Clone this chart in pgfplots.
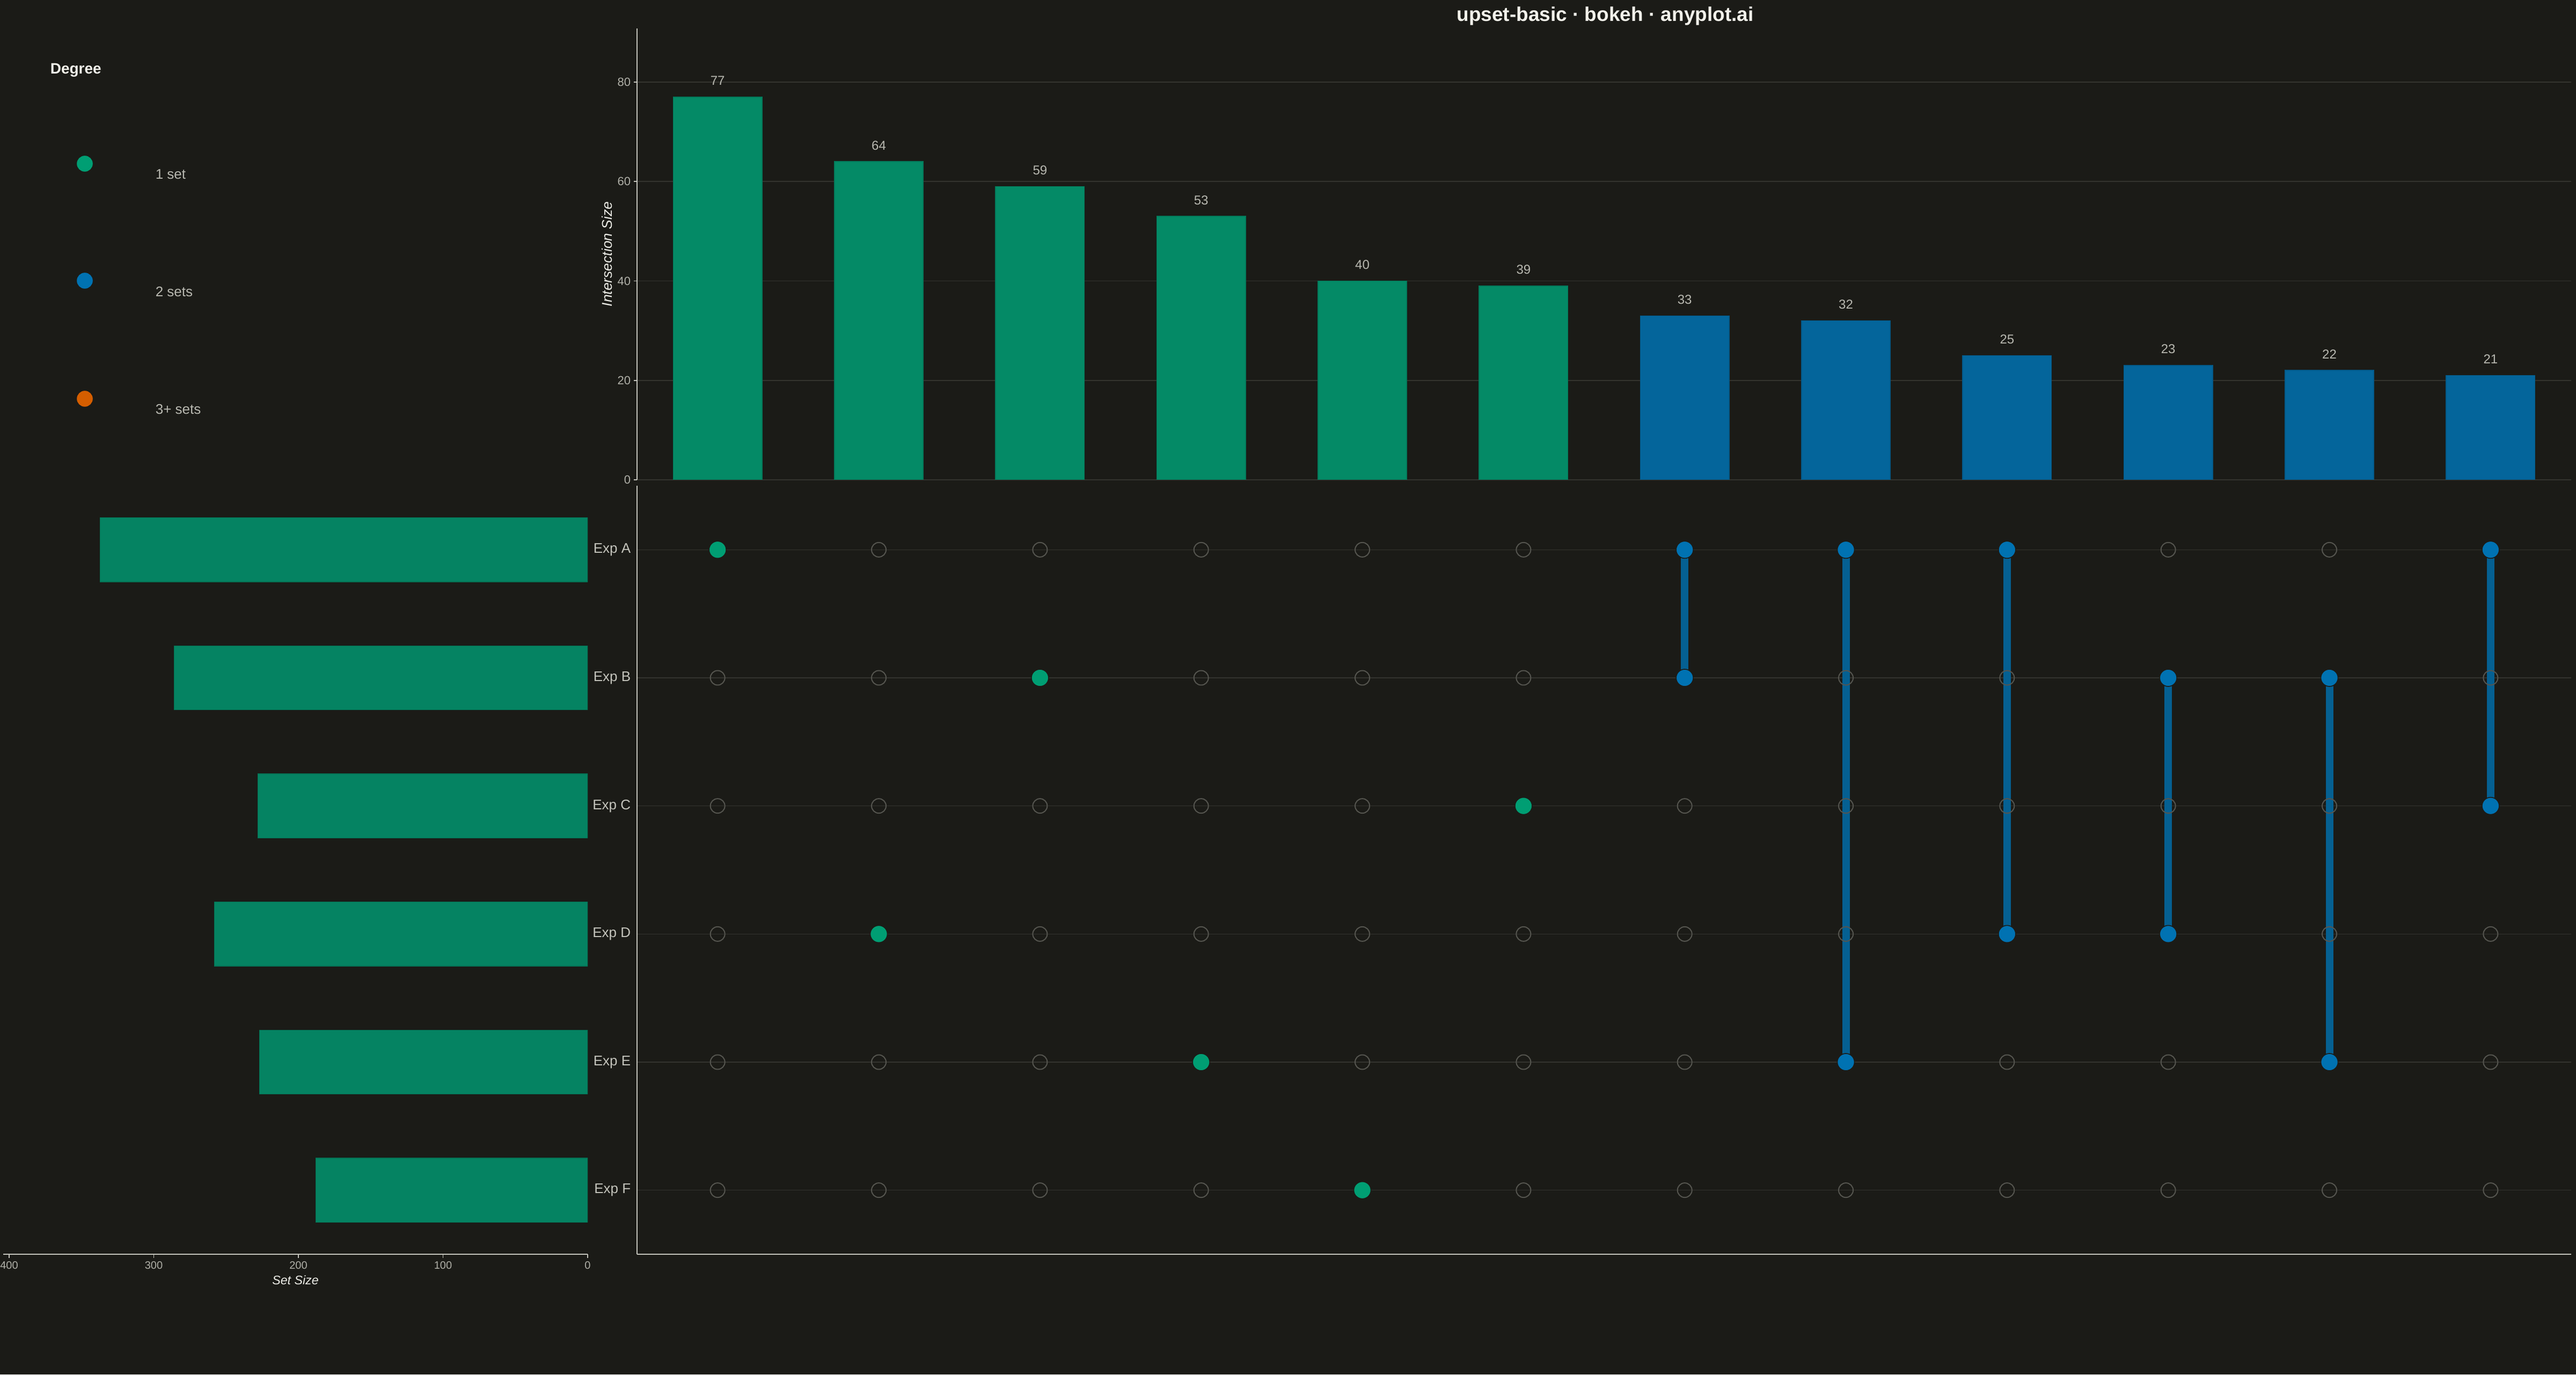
\documentclass[border=0pt]{standalone}
\usepackage{fontspec}
\setmainfont{Liberation Sans}
\usepackage{pgfplots}
\pgfplotsset{compat=1.18}
\definecolor{bg}{HTML}{1B1B17}
\definecolor{axiscol}{HTML}{C4C4BC}
\definecolor{gridcol}{HTML}{34342F}
\definecolor{tickcol}{HTML}{B0B0A8}
\definecolor{explabel}{HTML}{C4C4BC}
\definecolor{numcol}{HTML}{B8B8B0}
\definecolor{labelcol}{HTML}{ECECE6}
\definecolor{titlecol}{HTML}{F2F1EA}
\definecolor{bargreen}{HTML}{048A66}
\definecolor{bargreenedge}{HTML}{037A5B}
\definecolor{barblue}{HTML}{04659B}
\definecolor{barblueedge}{HTML}{035A8A}
\definecolor{setgreen}{HTML}{058362}
\definecolor{setgreenedge}{HTML}{047456}
\definecolor{dotgreen}{HTML}{009E73}
\definecolor{dotblue}{HTML}{0072B2}
\definecolor{dotorange}{HTML}{D55E00}
\definecolor{linkblue}{HTML}{056092}
\definecolor{emptycol}{HTML}{55554F}
\newcommand{\fsz}[1]{\fontsize{#1}{#1}\selectfont}
\begin{document}
\begin{tikzpicture}
\path[use as bounding box, fill=bg] (0pt,0pt) rectangle (1200pt,640.25pt);

% title
\node[anchor=base, inner sep=0pt, text=titlecol, font=\bfseries\fsz{9.25pt}] at (747.75pt,630.25pt) {upset-basic · bokeh · anyplot.ai};

% legend (Degree)
\begin{axis}[at={(0pt,416.75pt)}, anchor=south west, scale only axis,
  width=296.75pt, height=223.5pt, xmin=0, xmax=1187, ymin=0, ymax=894,
  y dir=reverse, hide axis, clip=false]
  \addplot[only marks, mark=*, mark size=3.5pt, color=dotgreen, mark options={draw=none, fill=dotgreen}] coordinates {(158,305)};
  \addplot[only marks, mark=*, mark size=3.5pt, color=dotblue, mark options={draw=none, fill=dotblue}] coordinates {(158,523)};
  \addplot[only marks, mark=*, mark size=3.5pt, color=dotorange, mark options={draw=none, fill=dotorange}] coordinates {(158,743)};
  \node[anchor=base west, inner sep=0pt, text=titlecol, font=\bfseries\fsz{7pt}] at (axis cs:93,138) {Degree};
  \node[anchor=base west, inner sep=0pt, text=numcol, font=\fsz{6.5pt}] at (axis cs:289,334) {1 set};
  \node[anchor=base west, inner sep=0pt, text=numcol, font=\fsz{6.5pt}] at (axis cs:289,553) {2 sets};
  \node[anchor=base west, inner sep=0pt, text=numcol, font=\fsz{6.5pt}] at (axis cs:289,772) {3+ sets};
\end{axis}

% intersection size bars
\begin{axis}[at={(296.75pt,416.75pt)}, anchor=south west, scale only axis,
  width=901pt, height=210.25pt,
  xmin=-0.5, xmax=11.5, ymin=0, ymax=90.8,
  axis lines=left, axis line style={-, draw=axiscol, line width=0.5pt},
  x axis line style={draw=none},
  xtick=\empty, ytick={0,20,40,60,80},
  ymajorgrids, grid style={draw=gridcol, line width=0.4pt},
  ytick align=outside, major tick length=1.5pt,
  tick style={draw=axiscol, line width=0.4pt},
  /pgf/number format/assume math mode=true,
  yticklabel style={font=\fsz{5.5pt}, text=tickcol, inner sep=0pt, xshift=-1.25pt},
  ylabel={Intersection Size},
  ylabel style={font=\itshape\fsz{6.6pt}, text=labelcol, at={(axis description cs:-0.01554,0.5)}, anchor=center},
  ]
  \addplot[ybar, bar width=0.55, bar shift=0pt, fill=bargreen, draw=bargreenedge, line width=0.4pt,
    nodes near coords,
    every node near coord/.append style={font=\fsz{6pt}, text=numcol, inner sep=0pt, yshift=5.25pt}]
    coordinates {(0,77) (1,64) (2,59) (3,53) (4,40) (5,39)};
  \addplot[ybar, bar width=0.55, bar shift=0pt, fill=barblue, draw=barblueedge, line width=0.4pt,
    nodes near coords,
    every node near coord/.append style={font=\fsz{6pt}, text=numcol, inner sep=0pt, yshift=5.25pt}]
    coordinates {(6,33) (7,32) (8,25) (9,23) (10,22) (11,21)};
\end{axis}

% set size bars
\begin{axis}[at={(1.5pt,56pt)}, anchor=south west, scale only axis,
  width=272.25pt, height=358pt,
  xmin=0, xmax=404.1, x dir=reverse, ymin=-0.5, ymax=5.5,
  axis x line=bottom, axis y line=none,
  axis line style={-, draw=axiscol, line width=0.5pt},
  xtick={0,100,200,300,400}, ytick=\empty,
  xtick align=outside, major tick length=1.75pt,
  tick style={draw=axiscol, line width=0.4pt},
  /pgf/number format/assume math mode=true,
  xticklabel style={font=\fsz{5pt}, text=tickcol, inner sep=0pt, yshift=-1.5pt},
  xlabel={Set Size},
  xlabel style={font=\itshape\fsz{5.8pt}, text=labelcol, at={(axis description cs:0.5,-0.0335)}, anchor=center},
  ]
  \addplot[xbar, bar width=0.5, bar shift=0pt, fill=setgreen, draw=setgreenedge, line width=0.3pt]
    coordinates {(337,5) (286,4) (228,3) (258,2) (227,1) (188,0)};
\end{axis}

% membership matrix
\begin{axis}[at={(296.75pt,56pt)}, anchor=south west, scale only axis,
  width=901pt, height=358pt,
  xmin=-0.5, xmax=11.5, ymin=-0.5, ymax=5.5,
  axis lines=left, axis line style={-, draw=axiscol, line width=0.5pt},
  xtick=\empty, ytick={0,1,2,3,4,5},
  yticklabels={Exp F,Exp E,Exp D,Exp C,Exp B,Exp A},
  major tick length=0pt,
  ymajorgrids, grid style={draw=gridcol, line width=0.4pt},
  yticklabel style={font=\fsz{6.5pt}, text=explabel, inner sep=0pt, xshift=-2.75pt},
  clip=false,
  ]
  % connecting lines
  \addplot[draw=linkblue, line width=3.5pt] coordinates {(6,5) (6,4)};
  \addplot[draw=linkblue, line width=3.5pt] coordinates {(7,5) (7,1)};
  \addplot[draw=linkblue, line width=3.5pt] coordinates {(8,5) (8,2)};
  \addplot[draw=linkblue, line width=3.5pt] coordinates {(9,4) (9,2)};
  \addplot[draw=linkblue, line width=3.5pt] coordinates {(10,4) (10,1)};
  \addplot[draw=linkblue, line width=3.5pt] coordinates {(11,5) (11,3)};
  % empty circles
  \addplot[only marks, mark=o, mark size=3.375pt, color=emptycol, mark options={line width=0.5pt}] table {
x y
0 0
0 1
0 2
0 3
0 4
1 0
1 1
1 3
1 4
1 5
2 0
2 1
2 2
2 3
2 5
3 0
3 2
3 3
3 4
3 5
4 1
4 2
4 3
4 4
4 5
5 0
5 1
5 2
5 4
5 5
6 0
6 1
6 2
6 3
7 0
7 2
7 3
7 4
8 0
8 1
8 3
8 4
9 0
9 1
9 3
9 5
10 0
10 2
10 3
10 5
11 0
11 1
11 2
11 4
};
  % filled dots, 1 set
  \addplot[only marks, mark=*, mark size=4pt, color=dotgreen, mark options={fill=dotgreen, draw=bg, line width=0.4pt}]
    coordinates {(0,5) (1,2) (2,4) (3,1) (4,0) (5,3)};
  % filled dots, 2 sets
  \addplot[only marks, mark=*, mark size=4pt, color=dotblue, mark options={fill=dotblue, draw=bg, line width=0.4pt}]
    coordinates {(6,5) (6,4) (7,5) (7,1) (8,5) (8,2) (9,4) (9,2) (10,4) (10,1) (11,5) (11,3)};
\end{axis}
\end{tikzpicture}
\end{document}
